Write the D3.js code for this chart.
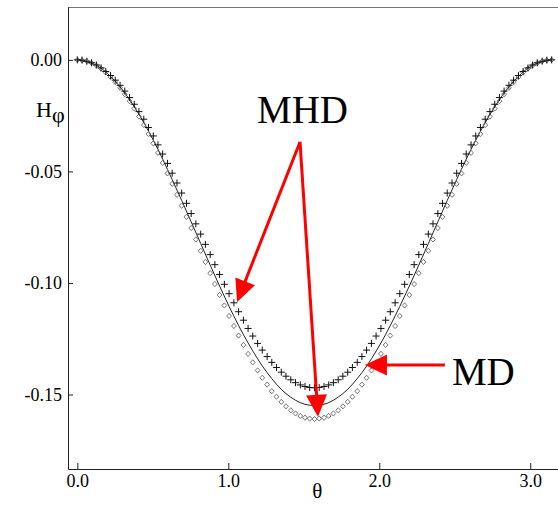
<!DOCTYPE html>
<html>
<head>
<meta charset="utf-8">
<script src="https://cdn.jsdelivr.net/npm/d3@7"></script>
<style>
  body { margin: 0; background: #fff; }
  svg { display: block; }
  .tick text { font-family: "Liberation Serif", "Times New Roman", serif; font-size: 18px; fill: #000; }
</style>
</head>
<body>
<svg class="chart"></svg>
<script>
// theta grid of the marker series (0 .. pi)
var theta = [0, 0.031, 0.063, 0.094, 0.126, 0.157, 0.188, 0.220, 0.251, 0.283, 0.314, 0.346, 0.377, 0.408, 0.440, 0.471, 0.503, 0.534, 0.565, 0.597,
  0.628, 0.660, 0.691, 0.723, 0.754, 0.785, 0.817, 0.848, 0.880, 0.911, 0.942, 0.974, 1.005, 1.037, 1.068, 1.100, 1.131, 1.162, 1.194, 1.225,
  1.257, 1.288, 1.319, 1.351, 1.382, 1.414, 1.445, 1.477, 1.508, 1.539, 1.571, 1.602, 1.634, 1.665, 1.696, 1.728, 1.759, 1.791, 1.822, 1.854,
  1.885, 1.916, 1.948, 1.979, 2.011, 2.042, 2.073, 2.105, 2.136, 2.168, 2.199, 2.231, 2.262, 2.293, 2.325, 2.356, 2.388, 2.419, 2.450, 2.482,
  2.513, 2.545, 2.576, 2.608, 2.639, 2.670, 2.702, 2.733, 2.765, 2.796, 2.827, 2.859, 2.890, 2.922, 2.953, 2.985, 3.016, 3.047, 3.079, 3.110, 3.142];

// "+" markers (MHD, upper)
var hPlus = [0, -0.0001, -0.0006, -0.0013, -0.0023, -0.0036, -0.0052, -0.0070, -0.0091, -0.0114, -0.0140, -0.0169, -0.0199, -0.0232, -0.0266, -0.0303, -0.0341, -0.0381, -0.0422, -0.0464,
  -0.0508, -0.0552, -0.0597, -0.0643, -0.0689, -0.0735, -0.0781, -0.0827, -0.0873, -0.0918, -0.0962, -0.1006, -0.1048, -0.1089, -0.1129, -0.1167, -0.1204, -0.1238, -0.1271, -0.1301,
  -0.1330, -0.1356, -0.1379, -0.1400, -0.1418, -0.1434, -0.1447, -0.1457, -0.1464, -0.1469, -0.1470, -0.1469, -0.1464, -0.1457, -0.1447, -0.1434, -0.1418, -0.1400, -0.1379, -0.1356,
  -0.1330, -0.1301, -0.1271, -0.1238, -0.1204, -0.1167, -0.1129, -0.1089, -0.1048, -0.1006, -0.0962, -0.0918, -0.0873, -0.0827, -0.0781, -0.0735, -0.0689, -0.0643, -0.0597, -0.0552,
  -0.0508, -0.0464, -0.0422, -0.0381, -0.0341, -0.0303, -0.0266, -0.0232, -0.0199, -0.0169, -0.0140, -0.0114, -0.0091, -0.0070, -0.0052, -0.0036, -0.0023, -0.0013, -0.0006, -0.0001, 0];

// diamond markers (MHD, lower)
var hDiamond = [0, -0.0002, -0.0006, -0.0014, -0.0025, -0.0039, -0.0057, -0.0077, -0.0100, -0.0125, -0.0154, -0.0185, -0.0218, -0.0254, -0.0292, -0.0332, -0.0374, -0.0417, -0.0462, -0.0509,
  -0.0556, -0.0605, -0.0654, -0.0704, -0.0754, -0.0805, -0.0856, -0.0906, -0.0956, -0.1005, -0.1054, -0.1101, -0.1148, -0.1193, -0.1236, -0.1278, -0.1318, -0.1356, -0.1392, -0.1425,
  -0.1456, -0.1485, -0.1510, -0.1533, -0.1553, -0.1571, -0.1585, -0.1596, -0.1604, -0.1608, -0.1610, -0.1608, -0.1604, -0.1596, -0.1585, -0.1571, -0.1553, -0.1533, -0.1510, -0.1485,
  -0.1456, -0.1425, -0.1392, -0.1356, -0.1318, -0.1278, -0.1236, -0.1193, -0.1148, -0.1101, -0.1054, -0.1005, -0.0956, -0.0906, -0.0856, -0.0805, -0.0754, -0.0704, -0.0654, -0.0605,
  -0.0556, -0.0509, -0.0462, -0.0417, -0.0374, -0.0332, -0.0292, -0.0254, -0.0218, -0.0185, -0.0154, -0.0125, -0.0100, -0.0077, -0.0057, -0.0039, -0.0025, -0.0014, -0.0006, -0.0002, 0];

// solid line (MD)
var thetaLine = [0, 0.126, 0.251, 0.377, 0.503, 0.628, 0.754, 0.880, 1.005, 1.131, 1.257, 1.382, 1.508, 1.634, 1.759, 1.885, 2.011, 2.136, 2.262, 2.388, 2.513, 2.639, 2.765, 2.890, 3.016, 3.142];
var hLine = [0, -0.0024, -0.0096, -0.0210, -0.0360, -0.0536, -0.0726, -0.0920, -0.1105, -0.1269, -0.1402, -0.1496, -0.1544, -0.1544, -0.1496, -0.1402, -0.1269, -0.1105, -0.0920, -0.0726, -0.0536, -0.0360, -0.0210, -0.0096, -0.0024, 0];

var xTicks = [0, 1, 2, 3];
var yTicks = [0, -0.05, -0.10, -0.15];

var width = 558, height = 505;
var plot = {left: 68, top: 7, right: 558, bottom: 469};

var x = d3.scaleLinear().domain([-0.062, 3.184]).range([plot.left, plot.right]);
var y = d3.scaleLinear().domain([0.0237, -0.1834]).range([plot.top, plot.bottom]);

var svg = d3.select(".chart").attr("width", width).attr("height", height);
var serif = "'Liberation Serif', 'Times New Roman', serif";

// frame top line
svg.append("line")
  .attr("x1", plot.left).attr("x2", plot.right).attr("y1", plot.top + 0.5).attr("y2", plot.top + 0.5)
  .attr("stroke", "#777").attr("stroke-width", 1);

// axes
svg.append("g")
  .attr("transform", "translate(0," + plot.bottom + ")")
  .call(d3.axisBottom(x).tickValues(xTicks).tickSizeInner(-6).tickSizeOuter(0).tickPadding(5)
    .tickFormat(function(d) { return d.toFixed(1); }));

svg.append("g")
  .attr("transform", "translate(" + plot.left + ",0)")
  .call(d3.axisLeft(y).tickValues(yTicks).tickSizeInner(-5).tickSizeOuter(0).tickPadding(6)
    .tickFormat(function(d) { return d.toFixed(2); }));

svg.selectAll(".domain, .tick line").attr("stroke", "#222");

// solid line
var pts = thetaLine.map(function(t, i) { return [t, hLine[i]]; });
svg.append("path")
  .datum(pts)
  .attr("fill", "none")
  .attr("stroke", "#222")
  .attr("stroke-width", 1)
  .attr("d", d3.line().x(function(d) { return x(d[0]); }).y(function(d) { return y(d[1]); }).curve(d3.curveCatmullRom));

// diamond markers
svg.append("g").selectAll("path")
  .data(theta)
  .enter().append("path")
  .attr("transform", function(d, i) { return "translate(" + x(d) + "," + y(hDiamond[i]) + ")"; })
  .attr("d", "M0,-2.6L2.4,0L0,2.6L-2.4,0Z")
  .attr("fill", "none")
  .attr("stroke", "#666")
  .attr("stroke-width", 0.9);

// plus markers
svg.append("g").selectAll("path")
  .data(theta)
  .enter().append("path")
  .attr("transform", function(d, i) { return "translate(" + x(d) + "," + y(hPlus[i]) + ")"; })
  .attr("d", "M-3.5,0H3.5M0,-3.5V3.5")
  .attr("stroke", "#111")
  .attr("stroke-width", 1);

// axis titles
var yl = svg.append("text")
  .attr("x", 36).attr("y", 117)
  .style("font-family", serif).style("font-size", "22px");
yl.append("tspan").text("H");
yl.append("tspan").attr("dy", 5).text("φ");

svg.append("text")
  .attr("x", x(1.59)).attr("y", 498)
  .attr("text-anchor", "middle")
  .style("font-family", serif).style("font-size", "21px")
  .text("θ");

// annotations (data coordinates)
function arrow(x0, y0, x1, y1) {
  var px0 = x(x0), py0 = y(y0), px1 = x(x1), py1 = y(y1);
  var dx = px1 - px0, dy = py1 - py0, len = Math.sqrt(dx * dx + dy * dy);
  var ux = dx / len, uy = dy / len, hl = 22, hw = 10.5;
  var bx = px1 - ux * hl, by = py1 - uy * hl;
  svg.append("line")
    .attr("x1", px0).attr("y1", py0).attr("x2", bx + ux * 2).attr("y2", by + uy * 2)
    .attr("stroke", "#ff0000").attr("stroke-width", 3);
  svg.append("path")
    .attr("d", "M" + px1 + "," + py1 + "L" + (bx - uy * hw) + "," + (by + ux * hw) + "L" + (bx + uy * hw) + "," + (by - ux * hw) + "Z")
    .attr("fill", "#ff0000");
}

arrow(1.475, -0.0368, 1.058, -0.1085);
arrow(1.475, -0.0368, 1.594, -0.1600);
arrow(2.435, -0.1368, 1.905, -0.1368);

svg.append("text")
  .attr("x", x(1.19)).attr("y", y(-0.0283))
  .style("font-family", serif).style("font-size", "39px")
  .text("MHD");

svg.append("text")
  .attr("x", x(2.481)).attr("y", y(-0.1457))
  .style("font-family", serif).style("font-size", "39px")
  .text("MD");
</script>
</body>
</html>
